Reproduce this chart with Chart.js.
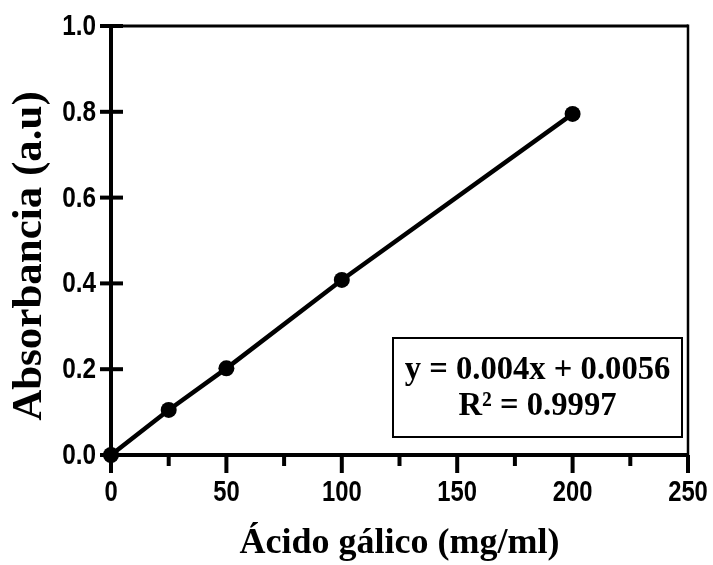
<!DOCTYPE html>
<html>
<head>
<meta charset="utf-8">
<script src="https://cdn.jsdelivr.net/npm/chart.js@4.4.1/dist/chart.umd.min.js"></script>
<style>
html,body{margin:0;padding:0;background:#fff;}
#wrap{width:713px;height:565px;position:relative;}
</style>
</head>
<body>
<div id="wrap"><canvas id="c" width="713" height="565"></canvas></div>
<script>
// ---- data ----
const concentrations = [0, 25, 50, 100, 200];          // Ácido gálico (mg/ml)
const absorbance     = [0, 0.105, 0.202, 0.408, 0.795]; // Absorbancia (a.u)
const xMajorTicks = [0, 50, 100, 150, 200, 250];
const xMinorTicks = [25, 75, 125, 175, 225];
const yTicks = [0.0, 0.2, 0.4, 0.6, 0.8, 1.0];
const xTitle = 'Ácido gálico (mg/ml)';
const yTitle = 'Absorbancia (a.u)';
const equationLines = ['y = 0.004x + 0.0056', 'R² = 0.9997'];

const SANS = '"Liberation Sans", Arial, sans-serif';
const SERIF = '"Liberation Serif", "Times New Roman", serif';
const titleFont = {family: SERIF, size: 36, weight: 'bold'};

function narrowText(ctx, text, x, y, align, sx) {
  ctx.save();
  ctx.translate(x, y);
  ctx.scale(sx, 1);
  ctx.textAlign = align;
  ctx.fillText(text, 0, 0);
  ctx.restore();
}

const framePlugin = {
  id: 'frame',
  beforeDatasetsDraw(chart) {
    const {ctx, chartArea: a, scales: {x, y}} = chart;
    ctx.save();
    ctx.strokeStyle = '#000';
    ctx.fillStyle = '#000';
    ctx.lineCap = 'butt';
    // y ticks crossing the axis + labels
    ctx.lineWidth = 4;
    ctx.font = 'bold 29px ' + SANS;
    ctx.textBaseline = 'middle';
    y.ticks.forEach(t => {
      const py = y.getPixelForValue(t.value);
      ctx.beginPath(); ctx.moveTo(a.left - 11, py); ctx.lineTo(a.left + 12, py); ctx.stroke();
      narrowText(ctx, t.value.toFixed(1), a.left - 15, py + 1, 'right', 0.84);
    });
    // x ticks + labels
    ctx.textBaseline = 'top';
    x.ticks.forEach(t => {
      const px = x.getPixelForValue(t.value);
      ctx.beginPath(); ctx.moveTo(px, a.bottom); ctx.lineTo(px, a.bottom + 18); ctx.stroke();
      narrowText(ctx, String(t.value), px, a.bottom + 23, 'center', 0.82);
    });
    xMinorTicks.forEach(v => {
      const px = x.getPixelForValue(v);
      ctx.beginPath(); ctx.moveTo(px, a.bottom); ctx.lineTo(px, a.bottom + 11); ctx.stroke();
    });
    // frame
    ctx.lineWidth = 3;
    ctx.beginPath(); ctx.moveTo(a.left, a.top); ctx.lineTo(a.right, a.top); ctx.stroke();
    ctx.lineWidth = 2.5;
    ctx.beginPath(); ctx.moveTo(a.right, a.top - 1.5); ctx.lineTo(a.right, a.bottom); ctx.stroke();
    ctx.lineWidth = 4;
    ctx.beginPath(); ctx.moveTo(a.left, a.top - 1.5); ctx.lineTo(a.left, a.bottom + 18); ctx.stroke();
    ctx.beginPath(); ctx.moveTo(a.left - 11, a.bottom); ctx.lineTo(a.right + 1, a.bottom); ctx.stroke();
    // y title
    ctx.save();
    ctx.translate(30, 256);
    ctx.rotate(-Math.PI / 2);
    ctx.font = 'bold 43px ' + SERIF;
    ctx.textAlign = 'center';
    ctx.textBaseline = 'middle';
    ctx.fillText(yTitle, 0, 0);
    ctx.restore();
    // equation box
    const bx = a.left + 282, by = a.top + 312, bw = 289, bh = 99;
    ctx.lineWidth = 2;
    ctx.strokeRect(bx, by, bw, bh);
    ctx.font = 'bold 34px ' + SERIF;
    ctx.textBaseline = 'middle';
    narrowText(ctx, equationLines[0], bx + bw / 2, by + 32, 'center', 0.96);
    narrowText(ctx, equationLines[1], bx + bw / 2, by + 68, 'center', 0.96);
    ctx.restore();
  }
};

new Chart(document.getElementById('c'), {
  type: 'scatter',
  data: {
    datasets: [{
      data: concentrations.map((c, i) => ({x: c, y: absorbance[i]})),
      showLine: true,
      borderColor: '#000',
      backgroundColor: '#000',
      borderWidth: 4.5,
      pointRadius: 8,
      pointHoverRadius: 8,
      pointBorderWidth: 0,
      clip: false
    }]
  },
  options: {
    responsive: false,
    animation: false,
    layout: {padding: {left: 0, right: 25, top: 26, bottom: 0}},
    plugins: {legend: {display: false}, tooltip: {enabled: false}},
    scales: {
      x: {
        type: 'linear', min: 0, max: 250,
        afterBuildTicks: s => { s.ticks = xMajorTicks.map(v => ({value: v})); },
        afterFit: s => { s.height = 110; },
        grid: {display: false},
        border: {display: false},
        ticks: {display: false},
        title: {display: true, text: xTitle, color: '#000', font: titleFont, padding: {top: 0, bottom: 0}}
      },
      y: {
        type: 'linear', min: 0, max: 1.0,
        afterBuildTicks: s => { s.ticks = yTicks.map(v => ({value: v})); },
        afterFit: s => { s.width = 111; },
        grid: {display: false},
        border: {display: false},
        ticks: {display: false},
        title: {display: false}
      }
    }
  },
  plugins: [framePlugin]
});
</script>
</body>
</html>
